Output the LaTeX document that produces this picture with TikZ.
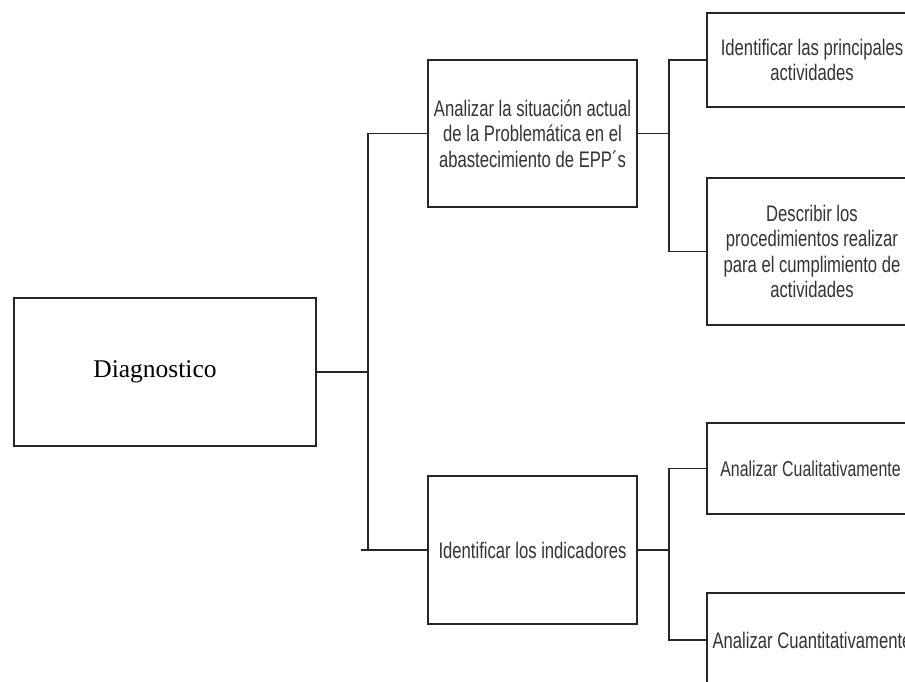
\documentclass[tikz,border=0pt]{standalone}
\usepackage{fontspec}
\setmainfont{Liberation Serif}
\newfontfamily\boxfont[FakeStretch=0.74]{Liberation Sans}
\begin{document}
\begin{tikzpicture}[x=1pt,y=-1pt,
  frame/.style={draw=black!85, line width=1.5pt, rectangle, inner sep=0pt, outer sep=0pt},
  box/.style={frame, align=center, text=black!80,
    font=\boxfont\fontsize{22.5}{25.5}\selectfont},
  link/.style={draw=black!85, line width=1.5pt, line cap=rect}]
\useasboundingbox (0,0) rectangle (905,682);
\clip (0,0) rectangle (905,682);

% root (its word sits a little left of the box centre)
\node[frame, minimum width=302pt, minimum height=148pt,
  font=\fontsize{25.5}{30}\selectfont] (diag) at (165,372) {Diagnostico\hspace*{20pt}};

% second level
\node[box, minimum width=209pt, minimum height=147pt] (ana) at (532.5,133.5)
  {Analizar la situación actual\\de la Problemática en el\\abastecimiento de EPP´s};
\node[box, minimum width=209pt, minimum height=148pt] (ind) at (532.5,550)
  {Identificar los indicadores};

% third level
\node[box, minimum width=210pt, minimum height=94pt] (b1) at (812,60)
  {Identificar las principales\\actividades};
\node[box, minimum width=210pt, minimum height=147pt] (b2) at (812,251.5)
  {Describir los\\procedimientos realizar\\para el cumplimiento de\\actividades};
\node[box, minimum width=210pt, minimum height=91pt,
  font=\boxfont\fontsize{21.5}{25.5}\selectfont] (b3) at (812,468.5)
  {Analizar Cualitativamente\hspace*{3pt}};
\node[box, minimum width=210pt, minimum height=94pt] (b4) at (812,640)
  {Analizar Cuantitativamente};

% trunk positions
\coordinate (trunk) at (368,0);
\coordinate (stub) at (362,0);
\coordinate (rtrunk) at (669,0);

% root to second level
\draw[link] (diag.east) -- (diag.east -| trunk);
\draw[link] (ana.west) -- (ana.west -| trunk) -- (ind.west -| trunk);
\draw[link] (ind.west) -- (ind.west -| stub);

% second level to third level
\draw[link] (ana.east) -- (ana.east -| rtrunk);
\draw[link] (b1.west) -- (b1.west -| rtrunk) -- (b2.west -| rtrunk) -- (b2.west);
\draw[link] (ind.east) -- (ind.east -| rtrunk);
\draw[link] (b3.west) -- (b3.west -| rtrunk) -- (b4.west -| rtrunk) -- (b4.west);
\end{tikzpicture}
\end{document}
